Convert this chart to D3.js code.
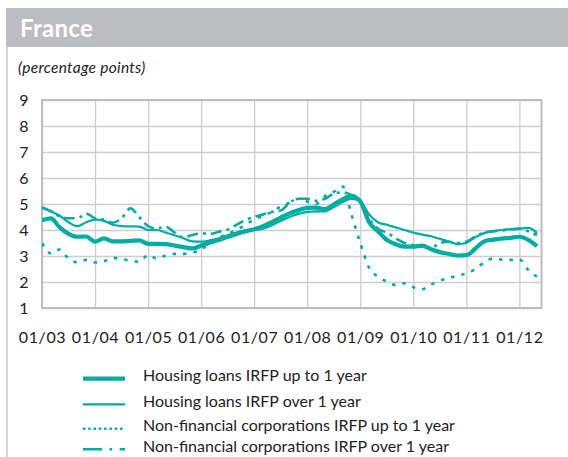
<!DOCTYPE html>
<html>
<head>
<meta charset="utf-8">
<script src="https://cdn.jsdelivr.net/npm/d3@7"></script>
<style>
  html, body { margin: 0; padding: 0; background: #fff; }
  svg { display: block; font-family: Lato, "Open Sans", sans-serif; }
</style>
</head>
<body>
<svg id="chart" width="568" height="457"></svg>
<script>
// Month offsets from January 2003, one observation every two months
const months = d3.range(0, 113, 2);

const housingShort = [4.38, 4.45, 4.10, 3.85, 3.74, 3.75, 3.55, 3.68, 3.56, 3.56,
  3.58, 3.60, 3.47, 3.47, 3.46, 3.40, 3.34, 3.29, 3.40, 3.52,
  3.62, 3.74, 3.85, 3.95, 4.03, 4.15, 4.30, 4.48, 4.64, 4.76,
  4.85, 4.86, 4.80, 4.98, 5.18, 5.30, 5.10, 4.30, 3.95, 3.62,
  3.45, 3.36, 3.36, 3.40, 3.26, 3.15, 3.08, 3.02, 3.03, 3.28,
  3.56, 3.63, 3.67, 3.70, 3.74, 3.62, 3.38];

const housingLong = [4.88, 4.72, 4.55, 4.30, 4.15, 4.30, 4.40, 4.35, 4.20, 4.15,
  4.14, 4.13, 4.00, 4.00, 3.90, 3.80, 3.68, 3.56, 3.55, 3.60,
  3.68, 3.80, 3.90, 3.98, 4.00, 4.05, 4.18, 4.35, 4.50, 4.62,
  4.70, 4.72, 4.72, 4.88, 5.08, 5.20, 5.10, 4.60, 4.30, 4.20,
  4.10, 4.00, 3.90, 3.82, 3.76, 3.66, 3.56, 3.46, 3.50, 3.72,
  3.88, 3.95, 4.00, 4.03, 4.06, 4.08, 3.88];

const nfcShort = [3.49, 3.10, 3.25, 2.90, 2.76, 2.85, 2.75, 2.80, 2.93, 2.88,
  2.82, 2.78, 3.04, 2.90, 3.02, 3.08, 3.08, 3.12, 3.25, 3.50,
  3.70, 3.85, 4.00, 4.20, 4.40, 4.55, 4.70, 4.90, 5.05, 5.20,
  5.10, 5.00, 5.30, 5.47, 5.67, 4.60, 3.50, 2.55, 2.20, 2.02,
  1.88, 1.95, 1.80, 1.72, 1.90, 2.05, 2.15, 2.25, 2.33, 2.50,
  2.75, 2.90, 2.86, 2.85, 2.87, 2.46, 2.20];

const nfcLong = [4.85, 4.72, 4.52, 4.45, 4.45, 4.63, 4.45, 4.40, 4.28, 4.45,
  4.83, 4.50, 4.15, 4.06, 4.13, 3.90, 3.72, 3.81, 3.87, 3.85,
  3.93, 4.02, 4.20, 4.38, 4.50, 4.60, 4.70, 4.75, 5.05, 5.20,
  5.20, 5.12, 5.20, 5.40, 5.45, 5.35, 5.10, 4.45, 4.05, 3.90,
  3.68, 3.50, 3.42, 3.38, 3.30, 3.50, 3.55, 3.50, 3.55, 3.75,
  3.90, 3.95, 3.98, 4.02, 4.05, 3.95, 3.80];

const xTickMonths = [0, 12, 24, 36, 48, 60, 72, 84, 96, 108];
const xTickLabels = ["01/03", "01/04", "01/05", "01/06", "01/07", "01/08", "01/09", "01/10", "01/11", "01/12"];
const yTicks = [1, 2, 3, 4, 5, 6, 7, 8, 9];

const seriesNames = [
  "Housing loans IRFP up to 1 year",
  "Housing loans IRFP over 1 year",
  "Non-financial corporations IRFP up to 1 year",
  "Non-financial corporations IRFP over 1 year"
];

const teal = "#00ADA2";
const styles = [
  { width: 4.2, dash: null, legendDash: null },
  { width: 2.2, dash: null, legendDash: null },
  { width: 2.6, dash: "3.5,7", legendDash: "2.4,2.9" },
  { width: 2.6, dash: "11,5,3,5", legendDash: "19,7.5,2.6,7.5" }
];

const series = [housingShort, housingLong, nfcShort, nfcLong].map((vals, i) => ({
  name: seriesNames[i],
  style: styles[i],
  points: months.map((m, j) => ({ m, v: vals[j] }))
}));

const svg = d3.select("#chart");
const W = 568, H = 457;
const plot = { left: 42, top: 100, right: 541.5, bottom: 308 };
const textColor = "#222";
const fontStack = "Lato, 'Open Sans', sans-serif";

const x = d3.scaleLinear().domain([0, 113]).range([plot.left, plot.right]);
const y = d3.scaleLinear().domain([1, 9]).range([plot.bottom, plot.top]);

// Panel header and left rule
svg.append("rect").attr("x", 6).attr("y", 8).attr("width", W - 6).attr("height", 39)
  .attr("fill", "#BCBDC0");
svg.append("line").attr("x1", 7).attr("x2", 7).attr("y1", 47).attr("y2", H)
  .attr("stroke", "#C6C7C9").attr("stroke-width", 1.5);
svg.append("text").attr("x", 20).attr("y", 36.5)
  .attr("fill", "#fff").attr("font-weight", 700).attr("font-size", 24)
  .attr("letter-spacing", 0.3)
  .text("France");
svg.append("text").attr("x", 18).attr("y", 73)
  .attr("fill", textColor).attr("font-style", "italic").attr("font-size", 15.5)
  .attr("letter-spacing", 0.3)
  .text("(percentage points)");

// Grid lines through the axes
const gridColor = "#CDCDCD";
const yAxis = d3.axisLeft(y).tickValues(yTicks).tickFormat(d3.format("d"))
  .tickSize(-(plot.right - plot.left)).tickPadding(0);
const gy = svg.append("g").attr("transform", `translate(${plot.left},0)`).call(yAxis);
gy.select(".domain").remove();
gy.selectAll(".tick line").attr("stroke", gridColor).attr("stroke-width", 1.3);
gy.selectAll(".tick text").attr("x", -18).attr("text-anchor", "middle")
  .attr("dy", "0.36em").attr("font-size", 16).attr("fill", textColor)
  .attr("font-family", fontStack);

const xAxis = d3.axisBottom(x).tickValues(xTickMonths)
  .tickFormat((d, i) => xTickLabels[i])
  .tickSize(-(plot.bottom - plot.top)).tickPadding(0);
const gx = svg.append("g").attr("transform", `translate(0,${plot.bottom})`).call(xAxis);
gx.select(".domain").remove();
gx.selectAll(".tick line").attr("stroke", gridColor).attr("stroke-width", 1.3);
gx.selectAll(".tick text").attr("y", 29).attr("dy", "0.36em")
  .attr("font-size", 16).attr("letter-spacing", 0.6).attr("fill", textColor)
  .attr("font-family", fontStack);

// Plot frame
svg.append("rect").attr("x", plot.left).attr("y", plot.top)
  .attr("width", plot.right - plot.left).attr("height", plot.bottom - plot.top)
  .attr("fill", "none").attr("stroke", "#BDBDBD").attr("stroke-width", 2);

// Series
svg.append("clipPath").attr("id", "plotClip").append("rect")
  .attr("x", plot.left).attr("y", plot.top)
  .attr("width", plot.right - plot.left).attr("height", plot.bottom - plot.top);

const line = d3.line().x(d => x(d.m)).y(d => y(d.v)).curve(d3.curveMonotoneX);
const order = [2, 3, 1, 0];
svg.append("g").attr("clip-path", "url(#plotClip)")
  .selectAll("path").data(order.map(i => series[i])).join("path")
  .attr("d", d => line(d.points))
  .attr("fill", "none").attr("stroke", teal)
  .attr("stroke-width", d => d.style.width)
  .attr("stroke-dasharray", d => d.style.dash)
  .attr("stroke-linejoin", "round");

// Legend
const legendRows = [378.7, 404.3, 428.7, 449.3];
const legend = svg.append("g");
series.forEach((s, i) => {
  legend.append("line").attr("x1", 83).attr("x2", 125)
    .attr("y1", legendRows[i]).attr("y2", legendRows[i])
    .attr("stroke", teal).attr("stroke-width", s.style.width)
    .attr("stroke-dasharray", s.style.legendDash);
  legend.append("text").attr("x", 143).attr("y", legendRows[i] - 3)
    .attr("dy", "0.36em").attr("font-size", 16).attr("fill", textColor)
    .text(s.name);
});
</script>
</body>
</html>
